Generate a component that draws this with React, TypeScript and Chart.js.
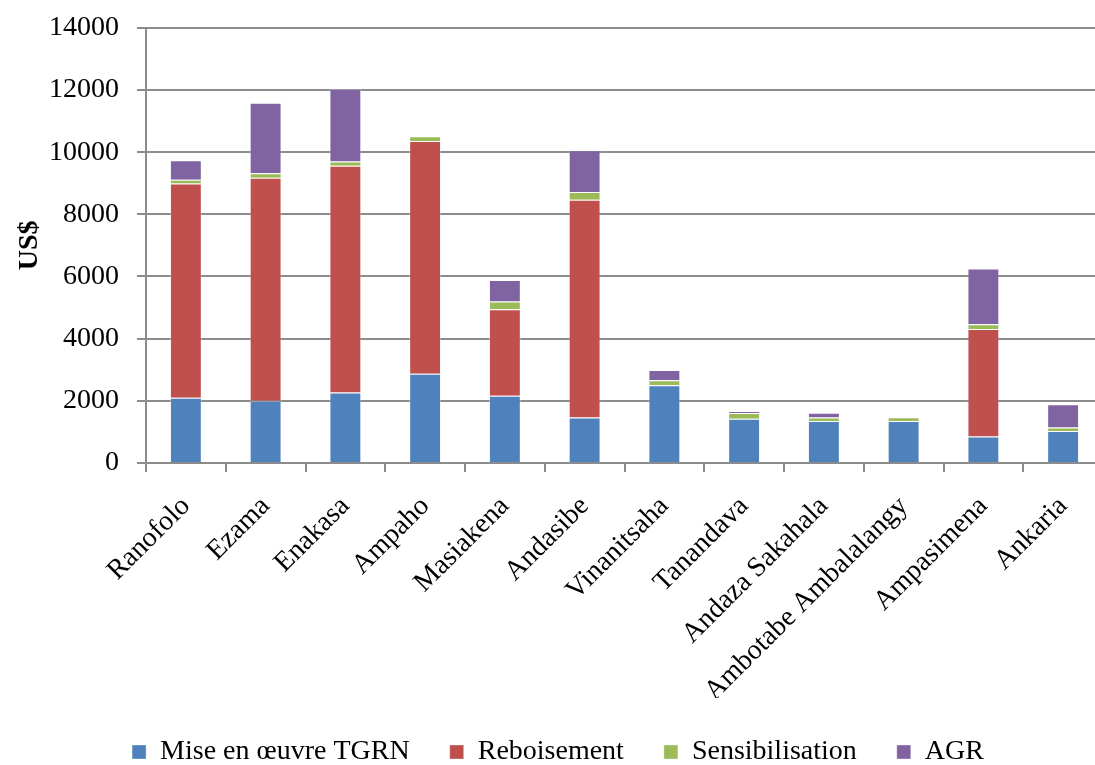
import React, { useEffect, useRef } from "react";
import { Chart, registerables } from "chart.js";

Chart.register(...registerables);

const categories = [
  "Ranofolo",
  "Ezama",
  "Enakasa",
  "Ampaho",
  "Masiakena",
  "Andasibe",
  "Vinanitsaha",
  "Tanandava",
  "Andaza Sakahala",
  "Ambotabe Ambalalangy",
  "Ampasimena",
  "Ankaria",
];

const miseEnOeuvreTGRN = [2100, 2000, 2270, 2870, 2160, 1460, 2500, 1420, 1350, 1350, 850, 1030];
const reboisement = [6890, 7180, 7290, 7490, 2790, 7010, 0, 0, 0, 0, 3460, 0];
const sensibilisation = [125, 140, 140, 150, 245, 245, 160, 190, 110, 120, 150, 110];
const agr = [625, 2270, 2340, 0, 690, 1345, 330, 55, 160, 0, 1800, 750];

const yTicks = [0, 2000, 4000, 6000, 8000, 10000, 12000, 14000];

const FONT = "'Liberation Serif', 'Times New Roman', serif";
const GRID = "#8c8c8c";

const CANVAS_W = 1116;
const CANVAS_H = 783;

export default function App() {
  const ref = useRef<HTMLCanvasElement | null>(null);

  useEffect(() => {
    if (!ref.current) return;
    const mk = (label: string, data: number[], color: string) => ({
      label,
      data,
      backgroundColor: color,
      borderColor: "rgba(255,255,255,0.35)",
      borderWidth: 1,
      barPercentage: 0.4,
      categoryPercentage: 1.0,
    });
    const chart = new Chart(ref.current, {
      type: "bar",
      data: {
        labels: categories,
        datasets: [
          mk("Mise en œuvre TGRN", miseEnOeuvreTGRN, "#4F81BD"),
          mk("Reboisement", reboisement, "#C0504D"),
          mk("Sensibilisation", sensibilisation, "#9BBB59"),
          mk("AGR", agr, "#8064A2"),
        ],
      },
      options: {
        animation: false,
        responsive: false,
        devicePixelRatio: 1,
        layout: { padding: { left: 13, right: 13, top: 5, bottom: 0 } },
        plugins: {
          legend: {
            position: "bottom",
            labels: {
              font: { family: FONT, size: 28 },
              color: "#000",
              boxWidth: 14,
              boxHeight: 14,
              padding: 40,
            },
          },
          tooltip: { enabled: false },
        },
        scales: {
          x: {
            stacked: true,
            afterFit: (s: any) => {
              s.height = 235;
            },
            grid: {
              offset: true,
              drawOnChartArea: false,
              tickLength: 9,
              color: GRID,
              lineWidth: 2,
            },
            border: { color: GRID, width: 2 },
            ticks: {
              font: { family: FONT, size: 28 },
              color: "#000",
              maxRotation: 45,
              minRotation: 45,
              padding: 18,
            },
          },
          y: {
            stacked: true,
            min: 0,
            max: 14000,
            afterFit: (s: any) => {
              s.width = 133;
            },
            afterBuildTicks: (s: any) => {
              s.ticks = yTicks.map((v) => ({ value: v }));
            },
            grid: { color: GRID, lineWidth: 2, tickLength: 9 },
            border: { color: GRID, width: 2 },
            ticks: {
              font: { family: FONT, size: 28 },
              color: "#000",
              padding: 18,
              callback: (v: any) => String(v),
            },
            title: {
              display: true,
              text: "US$",
              font: { family: FONT, size: 28, weight: "bold" },
              color: "#000",
              padding: 0,
            },
          },
        },
      },
    } as any);
    return () => chart.destroy();
  }, []);

  return (
    <div
      style={{
        position: "fixed",
        left: 0,
        top: 0,
        width: 1095,
        height: 765,
        overflow: "hidden",
        background: "#fff",
      }}
    >
      <canvas
        ref={ref}
        width={CANVAS_W}
        height={CANVAS_H}
        style={{
          width: CANVAS_W,
          height: CANVAS_H,
          display: "block",
          marginTop: -7,
        }}
      />
    </div>
  );
}
